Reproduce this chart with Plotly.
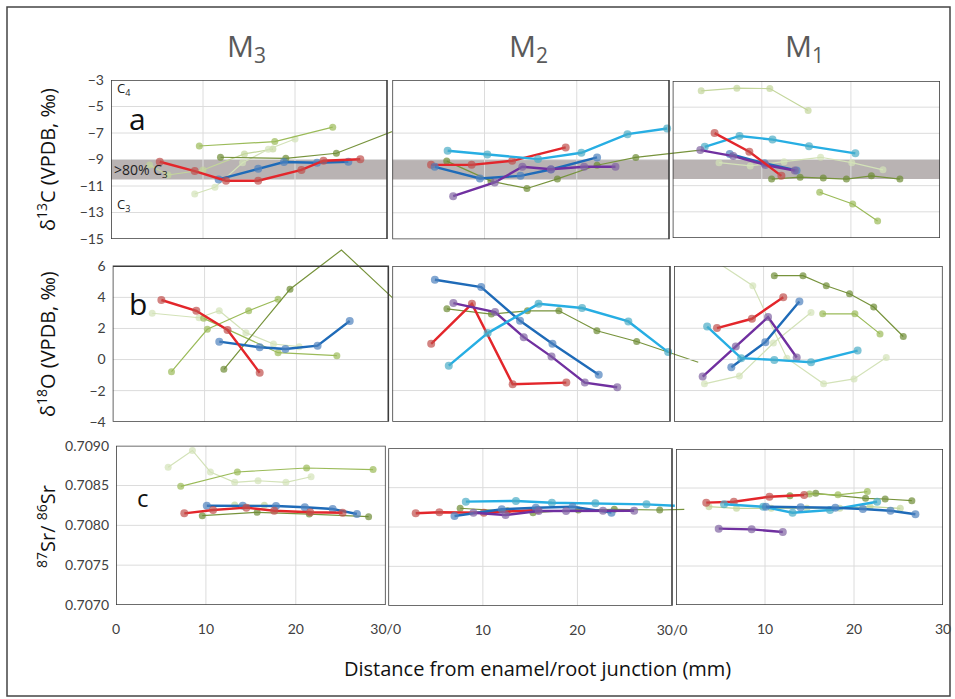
import plotly.graph_objects as go

W, H = 955, 699

# ---------------- data ----------------
# Row a : d13C (VPDB, permil)
a3_red_x = [5.3, 9.1, 12.5, 16.0, 20.7, 23.1, 27.1]
a3_red_y = [-9.17, -9.87, -10.6, -10.6, -9.79, -9.09, -8.98]
a3_blue_x = [11.7, 16.0, 18.8, 22.4, 25.8]
a3_blue_y = [-10.5, -9.69, -9.19, -9.24, -9.17]
a3_olive_x = [11.9, 19.0, 24.5, 35.0]
a3_olive_y = [-8.83, -8.91, -8.53, -5.7]
a3_lgreen_x = [9.6, 17.8, 24.1]
a3_lgreen_y = [-7.98, -7.65, -6.56]
a3_pale1_x = [4.2, 6.2, 10.0, 14.5, 17.6]
a3_pale1_y = [-9.42, -10.17, -9.79, -8.58, -8.21]
a3_pale2_x = [9.1, 11.3, 14.3, 17.1, 20.0]
a3_pale2_y = [-11.6, -11.1, -9.24, -8.23, -7.45]

a2_red_x = [4.2, 8.6, 13.0, 18.8]
a2_red_y = [-9.39, -9.39, -9.09, -8.08]
a2_cyan_x = [6.0, 10.3, 15.8, 20.5, 25.5, 29.8]
a2_cyan_y = [-8.33, -8.61, -8.96, -8.48, -7.08, -6.65]
a2_blue_x = [4.6, 9.5, 13.9, 17.2, 22.2]
a2_blue_y = [-9.54, -10.42, -10.22, -9.74, -8.83]
a2_purple_x = [6.6, 11.1, 14.1, 17.2, 20.8, 24.2]
a2_purple_y = [-11.75, -10.72, -9.54, -9.72, -9.54, -9.54]
a2_olive_x = [5.9, 10.7, 14.6, 17.9, 22.2, 26.4, 33.4]
a2_olive_y = [-9.11, -10.62, -11.17, -10.45, -9.42, -8.83, -8.28]

a1_pale_x = [3.2, 7.2, 10.9, 15.2]
a1_pale_y = [-3.75, -3.55, -3.58, -5.26]
a1_red_x = [4.7, 8.6, 12.2]
a1_red_y = [-6.98, -8.41, -10.25]
a1_cyan_x = [3.6, 7.5, 11.2, 15.3, 20.5]
a1_cyan_y = [-8.03, -7.2, -7.48, -7.98, -8.53]
a1_blue_x = [6.4, 10.3, 13.9]
a1_blue_y = [-8.58, -9.29, -9.84]
a1_purple_x = [3.1, 6.8, 10.4, 13.7]
a1_purple_y = [-8.28, -8.74, -9.42, -9.84]
a1_olive_x = [11.1, 14.3, 16.9, 19.5, 22.3, 25.5]
a1_olive_y = [-10.5, -10.35, -10.42, -10.5, -10.25, -10.5]
a1_vpale_x = [5.2, 8.7, 12.5, 16.6, 20.1, 23.6]
a1_vpale_y = [-9.24, -9.49, -9.17, -8.83, -9.24, -9.79]
a1_lgreen_x = [16.5, 20.2, 23.0]
a1_lgreen_y = [-11.5, -12.4, -13.7]

# Row b : d18O (VPDB, permil)
b3_red_x = [5.3, 9.1, 12.5, 16.0]
b3_red_y = [3.83, 3.14, 1.9, -0.85]
b3_blue_x = [11.6, 16.0, 18.8, 22.3, 25.8]
b3_blue_y = [1.15, 0.79, 0.68, 0.89, 2.48]
b3_olive_x = [12.1, 19.3, 24.9, 33.0]
b3_olive_y = [-0.63, 4.52, 7.05, 2.57]
b3_lgreen1_x = [6.4, 10.3, 14.8, 18.0]
b3_lgreen1_y = [-0.78, 1.95, 3.14, 3.88]
b3_lgreen2_x = [9.9, 18.0, 24.4]
b3_lgreen2_y = [2.65, 0.44, 0.25]
b3_vpale_x = [4.3, 9.4, 11.6, 14.5, 17.5, 20.3]
b3_vpale_y = [2.98, 2.69, 3.14, 1.73, 1.0, 0.83]

b2_blue_x = [4.6, 9.6, 13.8, 17.3, 22.3]
b2_blue_y = [5.12, 4.65, 2.48, 1.0, -0.99]
b2_red_x = [4.2, 8.6, 13.0, 18.8]
b2_red_y = [1.0, 3.57, -1.59, -1.49]
b2_purple_x = [6.6, 11.1, 14.2, 17.2, 20.8, 24.3]
b2_purple_y = [3.62, 3.04, 1.43, 0.18, -1.49, -1.79]
b2_cyan_x = [6.1, 10.3, 15.8, 20.5, 25.5, 29.8]
b2_cyan_y = [-0.4, 1.69, 3.57, 3.3, 2.44, 0.47]
b2_olive_x = [5.9, 10.7, 14.6, 18.0, 22.1, 26.4, 33.05]
b2_olive_y = [3.25, 2.91, 3.12, 3.12, 1.84, 1.15, -0.18]

b1_olive_x = [11.2, 14.4, 17.0, 19.6, 22.3, 25.6]
b1_olive_y = [5.38, 5.38, 4.73, 4.22, 3.36, 1.47]
b1_red_x = [4.8, 8.7, 12.2]
b1_red_y = [2.01, 2.61, 4.0]
b1_blue_x = [6.4, 10.2, 14.0]
b1_blue_y = [-0.5, 1.11, 3.72]
b1_purple_x = [3.2, 6.9, 10.5, 13.7]
b1_purple_y = [-1.1, 0.83, 2.72, 0.12]
b1_cyan_x = [3.7, 7.5, 11.2, 15.3, 20.5]
b1_cyan_y = [2.11, 0.08, -0.03, -0.18, 0.57]
b1_lgreen_x = [16.6, 20.2, 23.0]
b1_lgreen_y = [2.93, 2.93, 1.64]
b1_vpale1_x = [3.4, 7.3, 11.1, 15.3]
b1_vpale1_y = [-1.57, -1.06, 1.05, 3.01]
b1_vpale2_x = [1.5, 8.8, 12.6, 16.7, 20.1, 23.7]
b1_vpale2_y = [7.5, 4.73, 0.08, -1.57, -1.25, 0.12]

# Row c : 87Sr/86Sr
c3_vpale_x = [5.8, 8.5, 10.5, 13.2, 15.8, 18.9, 21.7]
c3_vpale_y = [0.70873, 0.70894, 0.70867, 0.70854, 0.70856, 0.70854, 0.70861]
c3_lgreen_x = [7.2, 13.5, 21.2, 28.6]
c3_lgreen_y = [0.70849, 0.70867, 0.70872, 0.70870]
c3_pale_x = [13.2, 16.5]
c3_pale_y = [0.708255, 0.708251]
c3_blue_x = [10.1, 14.1, 17.8, 21.0, 24.1, 26.8]
c3_blue_y = [0.708247, 0.708247, 0.708243, 0.708227, 0.708205, 0.708142]
c3_red_x = [7.6, 10.8, 14.5, 17.6, 21.6, 25.2]
c3_red_y = [0.708151, 0.708193, 0.708222, 0.708184, 0.708164, 0.708159]
c3_olive_x = [9.6, 15.7, 21.5, 28.1]
c3_olive_y = [0.708121, 0.708164, 0.708142, 0.708109]

c2_red_x = [2.9, 5.4, 10.1, 15.8]
c2_red_y = [0.708174, 0.708187, 0.708182, 0.708216]
c2_cyan_x = [8.2, 13.5, 17.3, 21.9, 27.3, 30.3]
c2_cyan_y = [0.708322, 0.708331, 0.708309, 0.708301, 0.708288, 0.708270]
c2_blue_x = [7.0, 12.0, 15.6, 19.5, 23.6]
c2_blue_y = [0.708140, 0.708225, 0.708245, 0.708258, 0.708182]
c2_purple_x = [9.0, 12.4, 15.9, 18.8, 22.7, 26.0]
c2_purple_y = [0.708182, 0.708153, 0.708203, 0.708203, 0.708207, 0.708207]
c2_olive_x = [7.6, 12.6, 15.3, 20.1, 23.9, 28.7, 31.3]
c2_olive_y = [0.708238, 0.708207, 0.708182, 0.708216, 0.708225, 0.708216, 0.708225]

c1_red_x = [3.4, 6.5, 10.5, 14.4]
c1_red_y = [0.708312, 0.708324, 0.708388, 0.708410]
c1_olive_x = [12.8, 15.7, 21.3, 23.5, 26.5]
c1_olive_y = [0.708401, 0.708432, 0.708368, 0.708359, 0.708337]
c1_lgreen_x = [15.0, 18.2, 21.5]
c1_lgreen_y = [0.708424, 0.708412, 0.708454]
c1_pale_x = [3.7, 6.8, 10.7, 14.7, 18.4, 21.8, 25.2]
c1_pale_y = [0.708260, 0.708239, 0.708239, 0.708239, 0.708239, 0.708260, 0.708239]
c1_cyan_x = [5.4, 9.8, 13.1, 17.3, 22.6]
c1_cyan_y = [0.708291, 0.708260, 0.708183, 0.708218, 0.708324]
c1_blue_x = [10.1, 14.0, 17.9, 21.0, 24.1, 26.9]
c1_blue_y = [0.708260, 0.708252, 0.708247, 0.708230, 0.708209, 0.708163]
c1_purple_x = [4.8, 8.5, 12.0]
c1_purple_y = [0.707979, 0.707970, 0.707936]

col_titles = ["M<sub>3</sub>", "M<sub>2</sub>", "M<sub>1</sub>"]
row_letters = ["a", "b", "c"]
a_ticks = [-3, -5, -7, -9, -11, -13, -15]
b_ticks = [6, 4, 2, 0, -2, -4]
c_ticks = [0.7090, 0.7085, 0.7080, 0.7075, 0.7070]
x_grid = [10, 20]
bottom_ticks = [[0, 10, 20, 30], [10, 20, 30], [10, 20, 30]]
bottom_text = [["0", "10", "20", "30/0"], ["10", "20", "30/0"], ["10", "20", "30"]]
band_c3 = [-10.5, -9.0]

panels = {
    (0, 0): [("pale", a3_pale1_x, a3_pale1_y), ("vpale", a3_pale2_x, a3_pale2_y),
             ("lgreen", a3_lgreen_x, a3_lgreen_y), ("olive", a3_olive_x, a3_olive_y),
             ("blue", a3_blue_x, a3_blue_y), ("red", a3_red_x, a3_red_y)],
    (0, 1): [("olive", a2_olive_x, a2_olive_y), ("red", a2_red_x, a2_red_y),
             ("cyan", a2_cyan_x, a2_cyan_y), ("blue", a2_blue_x, a2_blue_y),
             ("purple", a2_purple_x, a2_purple_y)],
    (0, 2): [("pale", a1_pale_x, a1_pale_y), ("vpale", a1_vpale_x, a1_vpale_y),
             ("lgreen", a1_lgreen_x, a1_lgreen_y), ("olive", a1_olive_x, a1_olive_y),
             ("cyan", a1_cyan_x, a1_cyan_y), ("blue", a1_blue_x, a1_blue_y),
             ("purple", a1_purple_x, a1_purple_y), ("red", a1_red_x, a1_red_y)],
    (1, 0): [("vpale", b3_vpale_x, b3_vpale_y), ("lgreen", b3_lgreen1_x, b3_lgreen1_y),
             ("lgreen", b3_lgreen2_x, b3_lgreen2_y), ("olive", b3_olive_x, b3_olive_y),
             ("blue", b3_blue_x, b3_blue_y), ("red", b3_red_x, b3_red_y)],
    (1, 1): [("olive", b2_olive_x, b2_olive_y), ("red", b2_red_x, b2_red_y),
             ("blue", b2_blue_x, b2_blue_y), ("purple", b2_purple_x, b2_purple_y),
             ("cyan", b2_cyan_x, b2_cyan_y)],
    (1, 2): [("vpale", b1_vpale1_x, b1_vpale1_y), ("vpale", b1_vpale2_x, b1_vpale2_y),
             ("lgreen", b1_lgreen_x, b1_lgreen_y), ("olive", b1_olive_x, b1_olive_y),
             ("red", b1_red_x, b1_red_y), ("blue", b1_blue_x, b1_blue_y),
             ("purple", b1_purple_x, b1_purple_y), ("cyan", b1_cyan_x, b1_cyan_y)],
    (2, 0): [("vpale", c3_vpale_x, c3_vpale_y), ("lgreen", c3_lgreen_x, c3_lgreen_y),
             ("pale", c3_pale_x, c3_pale_y), ("olive", c3_olive_x, c3_olive_y),
             ("blue", c3_blue_x, c3_blue_y), ("red", c3_red_x, c3_red_y)],
    (2, 1): [("olive", c2_olive_x, c2_olive_y), ("cyan", c2_cyan_x, c2_cyan_y),
             ("red", c2_red_x, c2_red_y), ("blue", c2_blue_x, c2_blue_y),
             ("purple", c2_purple_x, c2_purple_y)],
    (2, 2): [("pale", c1_pale_x, c1_pale_y), ("olive", c1_olive_x, c1_olive_y),
             ("lgreen", c1_lgreen_x, c1_lgreen_y), ("red", c1_red_x, c1_red_y),
             ("cyan", c1_cyan_x, c1_cyan_y), ("blue", c1_blue_x, c1_blue_y),
             ("purple", c1_purple_x, c1_purple_y)],
}

# ---------------- styles & layout geometry ----------------
STY = {
    "red":    dict(lc="#e3262b", mc="#c0504d", lw=2.4, ms=8),
    "blue":   dict(lc="#1f6bb8", mc="#4f81bd", lw=2.4, ms=8),
    "cyan":   dict(lc="#27aee3", mc="#4bacc6", lw=2.4, ms=8),
    "purple": dict(lc="#7030a0", mc="#8064a2", lw=2.4, ms=8),
    "olive":  dict(lc="#77933c", mc="#6e8b35", lw=1.2, ms=7),
    "lgreen": dict(lc="#9bbb59", mc="#9bbb59", lw=1.2, ms=7),
    "pale":   dict(lc="#c3d69b", mc="#c3d69b", lw=1.2, ms=7),
    "vpale":  dict(lc="#d3e2b8", mc="#d3e2b8", lw=1.2, ms=7),
}

# pixel geometry: (left, right_of_domain, right_of_box, top_of_domain, top_of_box, bottom)
GEOM = {
    (0, 0): (111, 392, 387, 80, 80, 239),
    (0, 1): (392.3, 705, 669, 80, 80, 239.3),
    (0, 2): (672.7, 940, 940, 81, 81, 238),
    (1, 0): (112.7, 392.3, 388.3, 248, 266.3, 421.7),
    (1, 1): (392.3, 703, 670, 266, 266, 421.7),
    (1, 2): (674, 942.7, 942.7, 266, 266, 421.7),
    (2, 0): (116, 385.7, 385.7, 445.7, 445.7, 605),
    (2, 1): (388.3, 690, 672, 448.3, 448.3, 605.7),
    (2, 2): (676, 943, 943, 449, 449, 605),
}
YR = {0: (-15, -3), 1: (-4, 6), 2: (0.7070, 0.7090)}
YT = {0: a_ticks, 1: b_ticks, 2: c_ticks}

TICKFONT = dict(family="Lato, Open Sans, sans-serif", size=14, color="#404040")


def px(x):
    return x / W


def py(y):
    return 1 - y / H


fig = go.Figure()
shapes = []
annotations = []

for (r, c), series in panels.items():
    n = r * 3 + c + 1
    xs = "" if n == 1 else str(n)
    left, rdom, rbox, tdom, tbox, bot = GEOM[(r, c)]
    y0, y1 = YR[r]
    xmax = 30 * (rdom - left) / (rbox - left)
    ytop = y1 + (y1 - y0) * (tbox - tdom) / (bot - tbox)
    xa = dict(domain=[px(left), px(rdom)], range=[0, xmax], anchor="y" + xs,
              showgrid=False, zeroline=False, showline=False, ticks="")
    if r == 2:
        xa.update(tickvals=bottom_ticks[c], ticktext=bottom_text[c],
                  tickfont=TICKFONT, ticklabelstandoff=14)
    else:
        xa.update(showticklabels=False)
    ya = dict(domain=[py(bot), py(tdom)], range=[y0, ytop], anchor="x" + xs,
              showgrid=False, zeroline=False, showline=False, ticks="")
    if c == 0:
        ya.update(tickvals=YT[r], tickfont=TICKFONT, ticklabelstandoff=6)
        if r == 2:
            ya.update(tickformat=".4f")
    else:
        ya.update(showticklabels=False)
    fig.layout["xaxis" + xs] = xa
    fig.layout["yaxis" + xs] = ya
    xr, yr = "x" + xs, "y" + xs
    # gray band (>80% C3 zone) in row a
    if r == 0:
        shapes.append(dict(type="rect", xref=xr, yref=yr, x0=0, x1=30,
                           y0=band_c3[0], y1=band_c3[1], fillcolor="#b9b3b3",
                           line=dict(width=0), layer="below"))
    # gridlines inside the box
    for g in x_grid:
        shapes.append(dict(type="line", xref=xr, yref=yr, x0=g, x1=g, y0=y0, y1=y1,
                           line=dict(color="#dcdcdc", width=1), layer="below"))
    for g in YT[r]:
        if y0 < g < y1:
            shapes.append(dict(type="line", xref=xr, yref=yr, x0=0, x1=30, y0=g, y1=g,
                               line=dict(color="#dcdcdc", width=1), layer="below"))
    # panel box
    shapes.append(dict(type="rect", xref=xr, yref=yr, x0=0, x1=30, y0=y0, y1=y1,
                       line=dict(color="#3c3c3c", width=1.6), fillcolor="rgba(0,0,0,0)",
                       layer="above"))
    for sty, sx, sy in series:
        s = STY[sty]
        sizes = [s["ms"] if (0 <= a <= 30 and y0 <= b <= y1) else 0 for a, b in zip(sx, sy)]
        fig.add_trace(go.Scatter(
            x=sx, y=sy, xaxis=xr, yaxis=yr, mode="lines+markers",
            line=dict(color=s["lc"], width=s["lw"]),
            marker=dict(color=s["mc"], size=sizes, line=dict(width=0)),
            showlegend=False, hoverinfo="skip"))


def note(text, x, y, size, color="#111", xanchor="center", angle=0, family="Open Sans, sans-serif"):
    annotations.append(dict(x=px(x), y=py(y), xref="paper", yref="paper", text=text,
                            xanchor=xanchor, yanchor="middle", textangle=angle,
                            showarrow=False, font=dict(family=family, size=size, color=color)))


# column titles
for c, t in enumerate(col_titles):
    left, rdom, rbox = GEOM[(0, c)][:3]
    note(t, (left + rbox) / 2 - 2, 47, 30, color="#5a5a5a")

# y-axis titles
for text, yc in [("δ<sup>13</sup>C (VPDB, ‰)", 160), ("δ<sup>18</sup>O (VPDB, ‰)", 344),
                 ("<sup>87</sup>Sr/ <sup>86</sup>Sr", 527)]:
    note(text, 46, yc, 20, angle=-90)

# x-axis title
note("Distance from enamel/root junction (mm)", 537, 668, 20)

# panel letters
for letter, (lx, ly, ls) in zip(row_letters, [(137, 119, 30), (138, 303, 30), (143, 497, 24)]):
    note(letter, lx, ly, ls)

# C4 / C3 labels
for text, lx, ly, ls in [("C<sub>4</sub>", 115, 89, 13), (">80% C<sub>3</sub>", 112, 170, 14),
                         ("C<sub>3</sub>", 115, 205, 13)]:
    note(text, lx, ly, ls, color="#222", xanchor="left")

# outer frame
shapes.append(dict(type="rect", xref="paper", yref="paper", x0=px(7), x1=px(950),
                   y0=py(696), y1=py(7), line=dict(color="#444", width=1.5)))

fig.update_layout(width=W, height=H, autosize=False,
                  margin=dict(l=0, r=0, t=0, b=0, autoexpand=False),
                  paper_bgcolor="white", plot_bgcolor="rgba(0,0,0,0)",
                  shapes=shapes, annotations=annotations, showlegend=False)

fig.write_html("out.html", config={"displayModeBar": False},
               post_script="document.body.style.margin='0';document.body.style.overflow='hidden';")
